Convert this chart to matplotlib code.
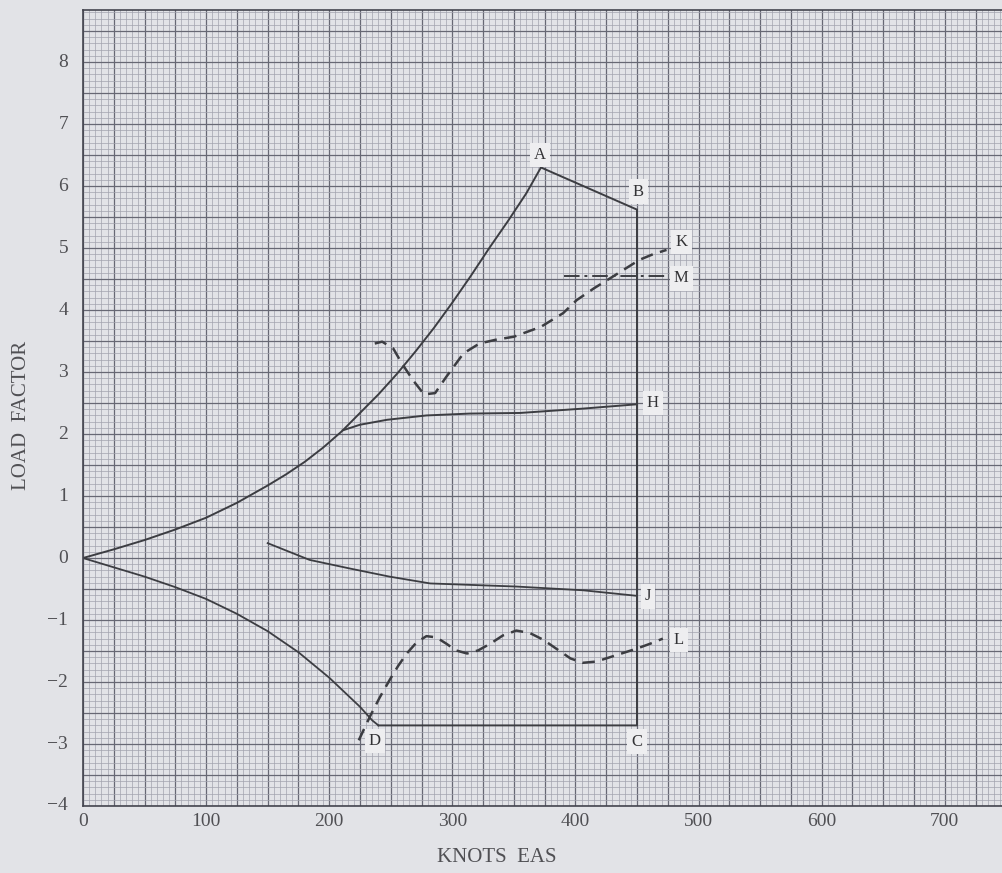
import matplotlib.pyplot as plt
from matplotlib.ticker import MultipleLocator

# V-n 선도 (load factor vs knots EAS)

# 경계선 O-A (양의 하중)
upper_x = [0, 25, 50, 75, 100, 125, 150, 165, 180, 195, 210, 225, 240, 255, 270, 285, 300, 315, 330, 345, 360, 372]
upper_y = [0, 0.14, 0.29, 0.46, 0.65, 0.89, 1.17, 1.35, 1.55, 1.78, 2.04, 2.34, 2.64, 2.97, 3.33, 3.71, 4.12, 4.55, 5.0, 5.43, 5.88, 6.3]
# A-B-C-D
ab_x = [372, 450, 450, 240]
ab_y = [6.3, 5.62, -2.7, -2.7]
# 경계선 O-D (음의 하중)
lower_x = [0, 25, 50, 75, 100, 125, 150, 175, 200, 225, 235, 240]
lower_y = [0, -0.15, -0.30, -0.47, -0.66, -0.90, -1.18, -1.52, -1.93, -2.40, -2.62, -2.7]

# H 곡선
h_x = [211, 225, 247, 279, 314, 355, 406, 450]
h_y = [2.06, 2.15, 2.23, 2.30, 2.33, 2.34, 2.41, 2.48]
# J 곡선
j_x = [150, 184, 217, 249, 282, 352, 406, 450]
j_y = [0.24, -0.03, -0.17, -0.30, -0.41, -0.46, -0.52, -0.61]
# K 점선
k_x = [237, 243, 252, 259, 268, 277, 286, 295, 309, 322, 335, 350, 372, 390, 401, 415, 428, 440, 452, 463, 474]
k_y = [3.46, 3.49, 3.38, 3.14, 2.87, 2.64, 2.66, 2.92, 3.30, 3.46, 3.52, 3.57, 3.73, 3.95, 4.16, 4.35, 4.51, 4.66, 4.81, 4.90, 4.97]
# M 일점쇄선
m_x = [391, 474]
m_y = [4.55, 4.55]
# L 점선
l_x = [224, 233, 241, 249, 256, 263, 271, 279, 287, 295, 303, 312, 321, 331, 341, 352, 363, 374, 385, 396, 406, 417, 428, 439, 450, 461, 471]
l_y = [-2.94, -2.56, -2.25, -1.97, -1.74, -1.54, -1.36, -1.26, -1.28, -1.38, -1.49, -1.54, -1.49, -1.38, -1.25, -1.17, -1.21, -1.32, -1.47, -1.62, -1.69, -1.67, -1.60, -1.53, -1.46, -1.38, -1.30]

# 점 이름표
tag_names = ['A', 'B', 'K', 'M', 'H', 'J', 'L', 'C', 'D']
tag_x = [371, 451, 486, 486, 463, 459, 484, 450, 237]
tag_y = [6.5, 5.91, 5.10, 4.51, 2.50, -0.62, -1.32, -2.96, -2.95]

x_ticks = [0, 100, 200, 300, 400, 500, 600, 700]
y_ticks = [-4, -3, -2, -1, 0, 1, 2, 3, 4, 5, 6, 7, 8]

bg = '#e2e3e7'
ink = '#3c3d42'

fig = plt.figure(figsize=(10.02, 8.73), dpi=100)
fig.patch.set_facecolor(bg)
ax = fig.add_axes([83/1002, 67/873, 919/1002, 796/873])
ax.set_facecolor(bg)
ax.set_xlim(0, 746.5)
ax.set_ylim(-4, 8.84)

# 모눈종이 격자
ax.xaxis.set_major_locator(MultipleLocator(25))
ax.xaxis.set_minor_locator(MultipleLocator(5))
ax.yaxis.set_major_locator(MultipleLocator(0.5))
ax.yaxis.set_minor_locator(MultipleLocator(0.1))
ax.grid(which='minor', color='#a2a3ae', lw=0.5)
ax.grid(which='major', color='#676874', lw=0.9)
ax.set_axisbelow(True)
ax.tick_params(which='both', length=0, labelbottom=False, labelleft=False)
for s in ['left', 'bottom', 'top']:
    ax.spines[s].set_color('#44454f')
    ax.spines[s].set_linewidth(1.2)
ax.spines['right'].set_visible(False)

# 눈금 숫자
for v in x_ticks:
    ax.text(v, -4.12, str(v), ha='center', va='top', fontsize=14,
            family='Liberation Serif', color='#505054', clip_on=False)
for v in y_ticks:
    lab = str(v).replace('-', '\u2212')
    ax.text(-12, v, lab, ha='right', va='center', fontsize=14,
            family='Liberation Serif', color='#505054', clip_on=False)

fig.text(22/1002, 1-415/873, 'LOAD  FACTOR', rotation=90, ha='center', va='center',
         fontsize=15, family='Liberation Serif', color='#505054')
fig.text(497/1002, 1-858/873, 'KNOTS  EAS', ha='center', va='center',
         fontsize=15, family='Liberation Serif', color='#505054')

# 선 그리기
ax.plot(upper_x, upper_y, color=ink, lw=1.4)
ax.plot(ab_x, ab_y, color=ink, lw=1.4)
ax.plot(lower_x, lower_y, color=ink, lw=1.3)
ax.plot(h_x, h_y, color=ink, lw=1.4)
ax.plot(j_x, j_y, color=ink, lw=1.3)
ax.plot(k_x, k_y, color=ink, lw=1.8, dashes=(5, 3))
ax.plot(l_x, l_y, color=ink, lw=1.8, dashes=(5, 3))
ax.plot(m_x, m_y, color=ink, lw=1.4, dashes=(8, 2.5, 1.5, 2.5))

for name, tx, ty in zip(tag_names, tag_x, tag_y):
    ax.text(tx, ty, name, ha='center', va='center', fontsize=12,
            family='Liberation Serif', color='#333336',
            bbox=dict(facecolor='#eeeef0', edgecolor='none', pad=3))

fig.savefig('out.png', dpi=100, facecolor=bg)
